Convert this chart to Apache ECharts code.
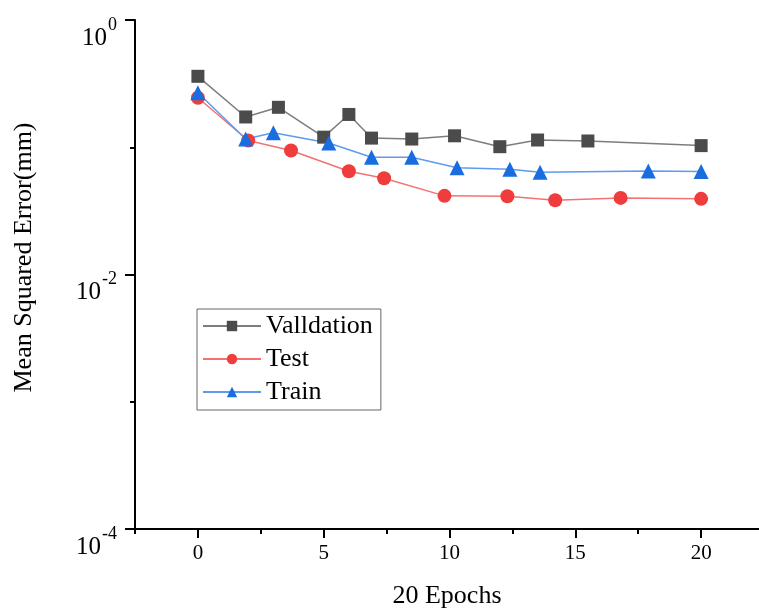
<!DOCTYPE html>
<html>
<head>
<meta charset="utf-8">
<script src="https://cdn.jsdelivr.net/npm/echarts@6/dist/echarts.min.js"></script>
<style>
    html, body {margin:0;padding:0;background:#fff;}
    #chart {width:759px;height:614px;}
</style>
</head>
<body>
<div id="chart"></div>
<script>
    // values (x = epoch, y = mean squared error)
    var validX = [0, 1.9, 3.2, 5.0, 6.0, 6.9, 8.5, 10.2, 12.0, 13.5, 15.5, 20.0];
    var validY = [0.361, 0.173, 0.206, 0.120, 0.181, 0.118, 0.116, 0.123, 0.101, 0.114, 0.112, 0.103];
    var testX = [0, 2.0, 3.7, 6.0, 7.4, 9.8, 12.3, 14.2, 16.8, 20.0];
    var testY = [0.245, 0.113, 0.0942, 0.0648, 0.0571, 0.0415, 0.0412, 0.0383, 0.040, 0.0393];
    var trainX = [0, 1.9, 3.0, 5.2, 6.9, 8.5, 10.3, 12.4, 13.6, 17.9, 20.0];
    var trainY = [0.268, 0.116, 0.130, 0.108, 0.0834, 0.0834, 0.0689, 0.0671, 0.0636, 0.0652, 0.0644];
    var xLabels = [0, 5, 10, 15, 20];
    var xMinorTicks = [-2.5, 2.5, 7.5, 12.5, 17.5];

    function pairs(xs, ys) {
        return xs.map(function (x, i) { return [x, ys[i]]; });
    }

    var font = '"Liberation Serif", "Times New Roman", serif';
    var chart = echarts.init(document.getElementById('chart'));

    var option = {
        animation: false,
        textStyle: {fontFamily: font},
        grid: {left: 135, right: 0, top: 20, bottom: 84},
        legend: {
            orient: 'vertical',
            left: 197,
            top: 309,
            borderColor: '#666',
            borderWidth: 1,
            padding: [4, 8, 5, 5],
            itemWidth: 58,
            itemHeight: 13,
            itemGap: 7,
            textStyle: {fontFamily: font, fontSize: 26, color: '#000'},
            data: ['Valldation', 'Test', 'Train']
        },
        xAxis: [{
            type: 'value',
            min: -2.5,
            max: 22.3,
            name: '20 Epochs',
            nameLocation: 'middle',
            nameGap: 54,
            nameTextStyle: {fontFamily: font, fontSize: 26, color: '#000'},
            axisLine: {onZero: false, lineStyle: {color: '#000', width: 2}},
            axisTick: {customValues: xLabels, length: 9, lineStyle: {color: '#000', width: 2}},
            axisLabel: {customValues: xLabels, margin: 14, fontFamily: font, fontSize: 21, color: '#000'},
            splitLine: {show: false}
        }, {
            type: 'value',
            min: -2.5,
            max: 22.3,
            position: 'bottom',
            axisLine: {show: false, onZero: false},
            axisTick: {customValues: xMinorTicks, length: 5, lineStyle: {color: '#000', width: 2}},
            axisLabel: {show: false},
            splitLine: {show: false}
        }],
        yAxis: [{
            type: 'log',
            logBase: 10,
            min: 0.0001,
            max: 1,
            interval: 2,
            name: 'Mean Squared Error(mm)',
            nameLocation: 'middle',
            nameGap: 98,
            nameTextStyle: {fontFamily: font, fontSize: 26, color: '#000', padding: [0, 0, 0, 34]},
            axisLine: {show: true, onZero: false, lineStyle: {color: '#000', width: 2}},
            axisTick: {show: true, length: 10, lineStyle: {color: '#000', width: 2}},
            axisLabel: {
                margin: 18,
                color: '#000',
                formatter: function (v) {
                    var e = Math.round(Math.log10(v));
                    return '{b|10}{s|' + e + '}';
                },
                rich: {
                    b: {fontFamily: font, fontSize: 25, color: '#000', padding: [36, 0, 0, 0]},
                    s: {fontFamily: font, fontSize: 18, color: '#000', padding: [10, 0, 0, 1]}
                }
            },
            splitLine: {show: false}
        }, {
            type: 'log',
            logBase: 10,
            min: 0.0001,
            max: 1,
            interval: 1,
            position: 'left',
            axisLine: {show: false, onZero: false},
            axisTick: {show: true, length: 5, lineStyle: {color: '#000', width: 2}},
            axisLabel: {show: false},
            splitLine: {show: false}
        }],
        series: [{
            name: 'Valldation',
            type: 'line',
            data: pairs(validX, validY),
            symbol: 'rect',
            symbolSize: 13,
            itemStyle: {color: '#4b4b4b'},
            lineStyle: {color: '#7d7d7d', width: 1.5}
        }, {
            name: 'Test',
            type: 'line',
            data: pairs(testX, testY),
            symbol: 'circle',
            symbolSize: 14,
            itemStyle: {color: '#ef3c3c'},
            lineStyle: {color: '#f27272', width: 1.5}
        }, {
            name: 'Train',
            type: 'line',
            data: pairs(trainX, trainY),
            symbol: 'triangle',
            symbolSize: 15,
            itemStyle: {color: '#1a6ddf'},
            lineStyle: {color: '#5c9cef', width: 1.5}
        }]
    };

    chart.setOption(option);
</script>
</body>
</html>
